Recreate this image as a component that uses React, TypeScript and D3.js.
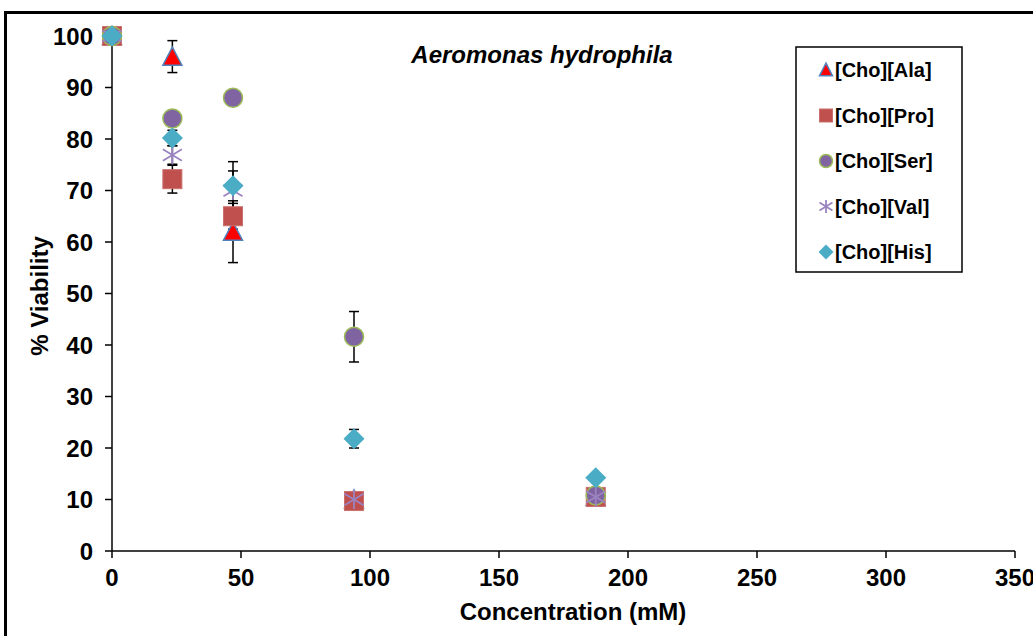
import React from 'react';
import * as d3 from 'd3';

// concentrations (mM)
const conc = [0, 23.4, 46.9, 93.8, 187.5];

const ala = [100, 96, 62, 10, 10.5];
const alaErr = [0, 3.1, 6, 0.5, 0.5];
const pro = [100, 72.2, 65, 9.7, 10.5];
const proErr = [0, 2.7, 2.5, 0.5, 0.5];
const ser = [100, 84, 88, 41.6, 10.8];
const serErr = [0, 1.5, 1.5, 4.9, 0.5];
const val = [100, 76.9, 70, 10, 10.5];
const valErr = [0, 1.8, 3.8, 0.5, 0.5];
const his = [100, 80.2, 70.9, 21.8, 14.2];
const hisErr = [0, 1.5, 4.7, 1.8, 0.5];

const xTicks = [0, 50, 100, 150, 200, 250, 300, 350];
const yTicks = [0, 10, 20, 30, 40, 50, 60, 70, 80, 90, 100];

const series = [
  { name: '[Cho][Ala]', values: ala, err: alaErr, shape: 'triangle' },
  { name: '[Cho][Pro]', values: pro, err: proErr, shape: 'square' },
  { name: '[Cho][Ser]', values: ser, err: serErr, shape: 'circle' },
  { name: '[Cho][Val]', values: val, err: valErr, shape: 'star' },
  { name: '[Cho][His]', values: his, err: hisErr, shape: 'diamond' },
];

const font = '"Liberation Sans", Arial, sans-serif';

function Marker({ shape, x, y, s }: { shape: string; x: number; y: number; s: number }) {
  if (shape === 'triangle') {
    const h = s * 0.9;
    return (
      <path
        d={`M${x},${y - h / 2 - 1} L${x + s / 2},${y + h / 2} L${x - s / 2},${y + h / 2} Z`}
        fill="#FF0000" stroke="#4F81BD" strokeWidth={1.5} />
    );
  }
  if (shape === 'square') {
    return <rect x={x - s / 2} y={y - s / 2} width={s} height={s} fill="#C0504D" stroke="#C9706D" strokeWidth={1} />;
  }
  if (shape === 'circle') {
    return <circle cx={x} cy={y} r={s / 2} fill="#8064A2" stroke="#9BBB59" strokeWidth={1.5} />;
  }
  if (shape === 'star') {
    const r = s / 2;
    return (
      <g stroke="#9A83C0" strokeWidth={1.8}>
        <line x1={x} y1={y - r} x2={x} y2={y + r} />
        <line x1={x - r} y1={y - r * 0.6} x2={x + r} y2={y + r * 0.6} />
        <line x1={x - r} y1={y + r * 0.6} x2={x + r} y2={y - r * 0.6} />
      </g>
    );
  }
  const r = s / 2 + 1;
  return <path d={`M${x},${y - r} L${x + r},${y} L${x},${y + r} L${x - r},${y} Z`} fill="#4BACC6" />;
}

export default function App() {
  const width = 1033;
  const height = 636;
  const x = d3.scaleLinear().domain([0, 350]).range([112, 1015]);
  const y = d3.scaleLinear().domain([0, 100]).range([551, 36]);

  return (
    <svg width={width} height={height} style={{ position: 'absolute', left: 0, top: 0, background: '#fff' }}>
      <rect x={0} y={0} width={width} height={height} fill="#fff" />
      <rect x={5.5} y={12.5} width={1040} height={640} fill="none" stroke="#000" strokeWidth={3} />

      {/* axes */}
      <line x1={x(0)} y1={y(0)} x2={x(350)} y2={y(0)} stroke="#000" strokeWidth={1.5} />
      <line x1={x(0)} y1={y(0)} x2={x(0)} y2={y(100)} stroke="#000" strokeWidth={1.5} />
      {xTicks.map(t => (
        <g key={'x' + t}>
          <line x1={x(t)} y1={y(0)} x2={x(t)} y2={y(0) + 7} stroke="#000" strokeWidth={1.5} />
          <text x={x(t)} y={y(0) + 35} textAnchor="middle" fontFamily={font} fontWeight="bold" fontSize={24}>{t}</text>
        </g>
      ))}
      {yTicks.map(t => (
        <g key={'y' + t}>
          <line x1={x(0) - 7} y1={y(t)} x2={x(0)} y2={y(t)} stroke="#000" strokeWidth={1.5} />
          <text x={93} y={y(t) + 8.5} textAnchor="end" fontFamily={font} fontWeight="bold" fontSize={24}>{t}</text>
        </g>
      ))}
      <text x={573} y={620} textAnchor="middle" fontFamily={font} fontWeight="bold" fontSize={24}>Concentration (mM)</text>
      <text transform="translate(48,296) rotate(-90)" textAnchor="middle" fontFamily={font} fontWeight="bold" fontSize={24}>% Viability</text>
      <text x={542} y={63} textAnchor="middle" fontFamily={font} fontWeight="bold" fontStyle="italic" fontSize={24}>Aeromonas hydrophila</text>

      {/* error bars */}
      {series.map(s => s.values.map((v, i) => s.err[i] > 0 ? (
        <g key={s.name + 'e' + i} stroke="#000" strokeWidth={1.5}>
          <line x1={x(conc[i])} y1={y(v - s.err[i])} x2={x(conc[i])} y2={y(v + s.err[i])} />
          <line x1={x(conc[i]) - 5} y1={y(v - s.err[i])} x2={x(conc[i]) + 5} y2={y(v - s.err[i])} />
          <line x1={x(conc[i]) - 5} y1={y(v + s.err[i])} x2={x(conc[i]) + 5} y2={y(v + s.err[i])} />
        </g>
      ) : null))}

      {/* markers */}
      {series.map(s => s.values.map((v, i) => (
        <Marker key={s.name + i} shape={s.shape} x={x(conc[i])} y={y(v)} s={19} />
      )))}

      {/* legend */}
      <rect x={796} y={47} width={166} height={225} fill="#fff" stroke="#000" strokeWidth={1.5} />
      {series.map((s, i) => (
        <g key={'lg' + s.name}>
          <Marker shape={s.shape} x={826} y={70 + i * 45.5} s={13} />
          <text x={835} y={70 + i * 45.5 + 7} fontFamily={font} fontWeight="bold" fontSize={20}>{s.name}</text>
        </g>
      ))}
    </svg>
  );
}
